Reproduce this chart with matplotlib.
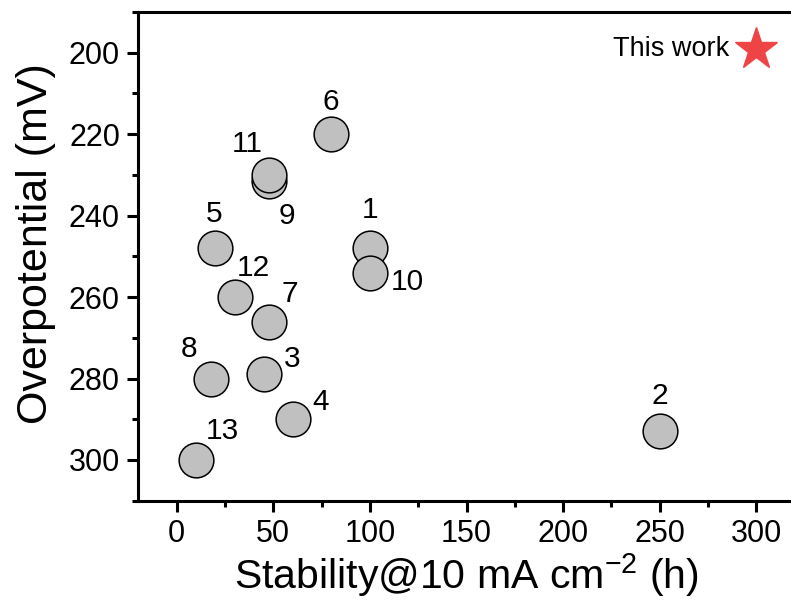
import matplotlib
matplotlib.use('Agg')
import matplotlib.pyplot as plt
from matplotlib.ticker import MultipleLocator

plt.rcParams['font.family'] = ['Liberation Sans', 'DejaVu Sans']
plt.rcParams['mathtext.fontset'] = 'custom'
plt.rcParams['mathtext.rm'] = 'Liberation Sans'

# Reported catalysts: stability (h) vs overpotential (mV).
labels = ['1', '2', '3', '4', '5', '6', '7', '8', '9', '11', '10', '12', '13']
stability = [100, 250, 45, 60, 20, 80, 48, 18, 48, 48, 100, 30, 10]
overpotential = [248, 293, 279, 290, 248, 220, 266, 280, 231.5, 230, 254, 260, 300]
# Label offsets from the marker centre (pixels, y up).
label_dx = [0, 0, 29, 28, -1, 0, 20, -22, 17, -22, 37, 19, 26]
label_dy = [38, 35, 15, 17, 34, 32, 28, 30, -35, 31, -9, 29, 29]

this_work_x = [300]
this_work_y = [199]

fig = plt.figure(figsize=(7.91, 6.0), dpi=100)
ax = fig.add_axes([138 / 791, 1 - 500.7 / 600, (795 - 138) / 791, (500.7 - 12) / 600])

ax.plot(stability, overpotential, 'o', ms=25, mfc='#c0c0c0', mec='black', mew=1.1, ls='none', zorder=3)
for lab, x, y, dx, dy in zip(labels, stability, overpotential, label_dx, label_dy):
   ax.annotate(lab, (x, y), xytext=(dx, dy), textcoords='offset pixels',
               ha='center', va='center', fontsize=21.5, zorder=4)

ax.plot(this_work_x, this_work_y, '*', ms=32, color='#ef4446', mec='#ef4446', zorder=5)
ax.annotate('This work', (this_work_x[0], this_work_y[0]), xytext=(-85, 0), textcoords='offset pixels',
            ha='center', va='center', fontsize=19.5)

ax.set_xlim(-20, 320)
ax.set_ylim(310, 190)
ax.xaxis.set_major_locator(MultipleLocator(50))
ax.xaxis.set_minor_locator(MultipleLocator(25))
ax.yaxis.set_major_locator(MultipleLocator(20))
ax.yaxis.set_minor_locator(MultipleLocator(10))
ax.tick_params(which='major', direction='out', length=8, width=2.2, labelsize=22, pad=5)
ax.tick_params(which='minor', direction='out', length=4, width=2.2)
for side in ['left', 'bottom', 'top', 'right']:
   ax.spines[side].set_linewidth(2.2)

ax.set_xlabel(r'Stability@10 mA cm$^{\mathregular{-2}}$ (h)', fontsize=29.5, labelpad=2)
ax.set_ylabel('Overpotential (mV)', fontsize=31, va='center')
ax.yaxis.set_label_coords(-0.155, 0.527)

fig.savefig('out.png', dpi=100)
